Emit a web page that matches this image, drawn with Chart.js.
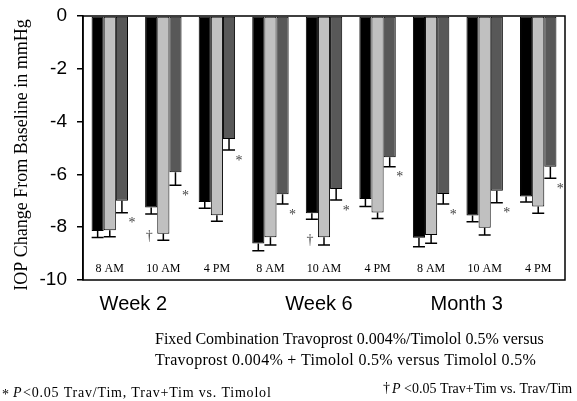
<!DOCTYPE html>
<html>
<head>
<meta charset="utf-8">
<script src="https://cdn.jsdelivr.net/npm/chart.js@4"></script>
<style>
  body { margin: 0; background: #fff; }
  #wrap { width: 577px; height: 401px; }
</style>
</head>
<body>
<div id="wrap"><canvas id="iopChart"></canvas></div>
<script>
// time points and study visits
const timeLabels = ['8 AM', '10 AM', '4 PM', '8 AM', '10 AM', '4 PM', '8 AM', '10 AM', '4 PM'];
const visitLabels = ['Week 2', 'Week 6', 'Month 3'];

// mean IOP change from baseline (mmHg)
const travTimFixed = [-8.14, -7.25, -7.05, -8.62, -7.47, -6.93, -8.40, -7.56, -6.84];
const travPlusTim = [-8.12, -8.25, -7.55, -8.38, -8.38, -7.44, -8.30, -8.02, -7.22];
const timolol = [-7.00, -5.92, -4.66, -6.75, -6.55, -5.35, -6.74, -6.62, -5.71];

// standard errors
const seFixed = [0.25, 0.25, 0.23, 0.27, 0.23, 0.29, 0.34, 0.23, 0.21];
const sePlus = [0.24, 0.24, 0.22, 0.29, 0.29, 0.23, 0.31, 0.28, 0.25];
const seTimolol = [0.45, 0.49, 0.42, 0.37, 0.42, 0.36, 0.38, 0.45, 0.44];

// significance marks
const starIdx = [0, 1, 2, 3, 4, 5, 6, 7, 8];   // * on timolol bars
const daggerIdx = [1, 4];                       // † next to Trav+Tim bars

const errors = [seFixed, sePlus, seTimolol];

const overlay = {
  id: 'overlay',
  afterDatasetsDraw(chart) {
    const ctx = chart.ctx;
    const y = chart.scales.y;
    const area = chart.chartArea;

    // one-sided error bars below each bar
    ctx.save();
    ctx.strokeStyle = '#000';
    ctx.lineWidth = 1.5;
    chart.data.datasets.forEach((ds, d) => {
      chart.getDatasetMeta(d).data.forEach((bar, i) => {
        const yEnd = y.getPixelForValue(ds.data[i] - errors[d][i]);
        ctx.beginPath();
        ctx.moveTo(bar.x, bar.y);
        ctx.lineTo(bar.x, yEnd);
        ctx.moveTo(bar.x - 6, yEnd);
        ctx.lineTo(bar.x + 6, yEnd);
        ctx.stroke();
      });
    });

    // stars and daggers
    const timMeta = chart.getDatasetMeta(2).data;
    const plusMeta = chart.getDatasetMeta(1).data;
    ctx.fillStyle = '#444';
    ctx.font = '14px "Liberation Serif"';
    ctx.textAlign = 'center';
    ctx.textBaseline = 'middle';
    starIdx.forEach(i => {
      const yEnd = y.getPixelForValue(timolol[i] - seTimolol[i]);
      ctx.fillText('*', timMeta[i].x + 10, yEnd + 11);
    });
    daggerIdx.forEach(i => {
      ctx.fillText('\u2020', plusMeta[i].x - 14, plusMeta[i].y + 3);
    });

    // box around the plot
    ctx.strokeStyle = '#000';
    ctx.lineWidth = 1.5;
    ctx.strokeRect(area.left, area.top, area.right - area.left, area.bottom - area.top);

    // time-of-day labels inside the plot
    const x = chart.scales.x;
    ctx.fillStyle = '#000';
    ctx.font = '12px "Liberation Serif"';
    timeLabels.forEach((t, i) => {
      ctx.fillText(t, x.getPixelForValue(i), area.bottom - 11);
    });

    // visit labels under the plot
    const visitShift = [-30, -5, -18];
    ctx.font = '20px "Liberation Sans"';
    visitLabels.forEach((v, k) => {
      ctx.fillText(v, x.getPixelForValue(k * 3 + 1) + visitShift[k], 304);
    });

    // y axis title
    ctx.save();
    ctx.translate(22, 155);
    ctx.rotate(-Math.PI / 2);
    ctx.font = '18px "Liberation Serif"';
    ctx.fillText('IOP Change From Baseline in mmHg', 0, 0);
    ctx.restore();

    // caption
    ctx.font = '16px "Liberation Serif"';
    ctx.textAlign = 'left';
    ctx.fillText('Fixed Combination Travoprost 0.004%/Timolol 0.5% versus', 155, 340);
    ctx.letterSpacing = '0.3px';
    ctx.fillText('Travoprost 0.004% + Timolol 0.5% versus Timolol 0.5%', 155, 361);

    // footnotes
    ctx.letterSpacing = '0.8px';
    ctx.font = '14px "Liberation Serif"';
    ctx.fillText('*', 2, 395);
    ctx.font = 'italic 14px "Liberation Serif"';
    ctx.fillText('P', 13, 393);
    ctx.font = '14px "Liberation Serif"';
    ctx.fillText('<0.05 Trav/Tim, Trav+Tim vs. Timolol', 23, 393);
    ctx.letterSpacing = '0px';
    ctx.fillText('\u2020', 383, 388);
    ctx.font = 'italic 14px "Liberation Serif"';
    ctx.fillText('P', 392, 389);
    ctx.font = '14px "Liberation Serif"';
    ctx.fillText('<0.05 Trav+Tim vs. Trav/Tim', 404, 389);
    ctx.restore();
  }
};

new Chart(document.getElementById('iopChart'), {
  type: 'bar',
  data: {
    labels: timeLabels,
    datasets: [
      { label: 'Travoprost/Timolol', data: travTimFixed, backgroundColor: '#000000' },
      { label: 'Travoprost + Timolol', data: travPlusTim, backgroundColor: '#c0c0c0' },
      { label: 'Timolol', data: timolol, backgroundColor: '#585858' }
    ]
  },
  options: {
    responsive: true,
    maintainAspectRatio: false,
    animation: false,
    datasets: {
      bar: {
        borderColor: '#000',
        borderWidth: 1,
        borderSkipped: false,
        categoryPercentage: 0.68,
        barPercentage: 1.0
      }
    },
    layout: { padding: { top: 16, right: 12, bottom: 121, left: 0 } },
    plugins: { legend: { display: false }, tooltip: { enabled: false } },
    scales: {
      x: { display: false },
      y: {
        min: -10,
        max: 0,
        afterFit(scale) {
          scale.width = 83;
          scale.paddingTop = 0;
          scale.paddingBottom = 0;
        },
        ticks: {
          stepSize: 2,
          color: '#000',
          padding: 10,
          font: { family: 'Liberation Sans', size: 19 }
        },
        grid: { drawOnChartArea: false, tickLength: 6, color: '#000', lineWidth: 1.5 },
        border: { color: '#000', width: 1.5 }
      }
    }
  },
  plugins: [overlay]
});
</script>
</body>
</html>
